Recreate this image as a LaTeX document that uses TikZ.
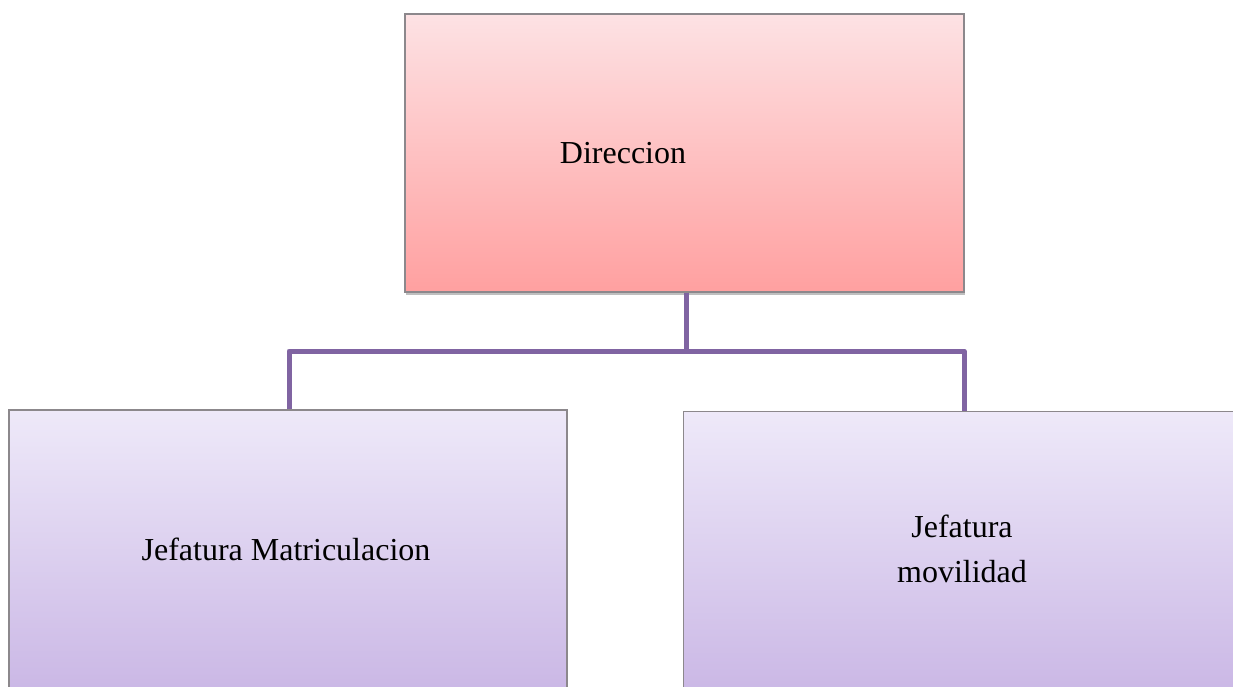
\documentclass[tikz,border=0pt]{standalone}
\usepackage{fontspec}
\setmainfont{Liberation Serif}
\usetikzlibrary{shadows}
\definecolor{pinktop}{RGB}{253,226,228}
\definecolor{pinkbot}{RGB}{255,160,160}
\definecolor{lavtop}{RGB}{238,233,249}
\definecolor{lavbot}{RGB}{200,180,228}
\definecolor{conn}{RGB}{128,100,162}
\definecolor{edge}{RGB}{140,136,140}
\tikzset{
  box/.style={draw=edge, line width=1.2pt, inner sep=0pt,
    drop shadow={shadow xshift=1pt, shadow yshift=-3pt, opacity=0.25, fill=black}},
  pinkbox/.style={box, top color=pinktop, bottom color=pinkbot},
  lavbox/.style={box, top color=lavtop, bottom color=lavbot},
  conline/.style={draw=conn, line width=5pt, line join=round},
  lbl/.style={font=\fontsize{32}{45}\selectfont, inner sep=0pt, align=center}
}
\begin{document}
\begin{tikzpicture}[x=1pt,y=-1pt]
\useasboundingbox (0,0) rectangle (1233,686);
\clip (0,0) rectangle (1233,686);
\fill[white] (0,0) rectangle (1233,686);
% boxes
\node[pinkbox, minimum width=559, minimum height=278] (dir) at (684.5,153) {};
\node[lavbox, minimum width=558, minimum height=300] (jm) at (288,560) {};
\node[lavbox, minimum width=580, minimum height=300, anchor=north west] (jv) at (683,411) {};
% connectors
\coordinate (hub) at (686,351);
\draw[conline] (dir.south -| hub) -- (hub);
\draw[conline] (jm.north -| 289,0) |- (hub) -| (jv.north -| 964,0);
% labels
\node[lbl, anchor=base] (tdir) at (623,163) {Direccion};
\node[lbl, anchor=base] (tjm) at (286,560) {Jefatura Matriculacion};
\node[lbl, anchor=base] (tjv) at (962,582) {Jefatura\\movilidad};
\end{tikzpicture}
\end{document}
